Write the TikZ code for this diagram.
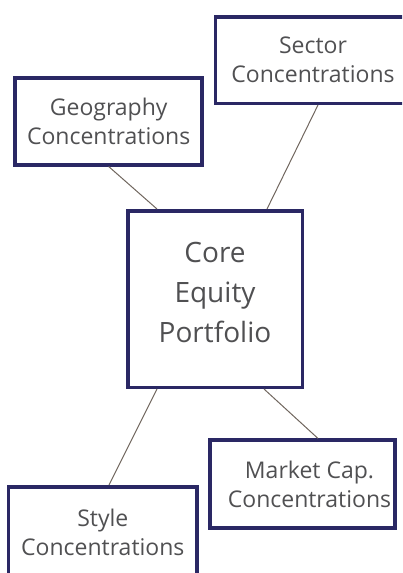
\documentclass[tikz,border=0pt]{standalone}
\usepackage{fontspec}
\setmainfont{Open Sans}

\definecolor{boxNavy}{RGB}{42,40,100}
\definecolor{linkBrown}{RGB}{112,102,94}
\definecolor{textGray}{RGB}{80,80,82}

\begin{document}
\begin{tikzpicture}[x = 1pt, y = -1pt, text = textGray, font = \fontsize{23}{29}\selectfont]
\tikzstyle{BoxStyle} = [shape = rectangle, draw = boxNavy, line width = 3.5pt, align = center, inner sep = 0pt]
\tikzstyle{sideStyle} = [BoxStyle, minimum width = 187pt, minimum height = 87pt]
\tikzstyle{coreStyle} = [BoxStyle, minimum width = 174.5pt, minimum height = 176.5pt, font = \fontsize{28}{40}\selectfont]
\tikzstyle{LinkStyle} = [draw = linkBrown, line width = 1pt]
\useasboundingbox (0,0) rectangle (402,573);
\clip (0,0) rectangle (402,573);
\node[coreStyle] (core) at (215, 299) {Core\\Equity\\Portfolio\rule[-14pt]{0pt}{14pt}};
\node[sideStyle] (geo) at (108.7, 121.3) {Geography\\Concentrations};
\node[sideStyle, minimum width = 195pt, minimum height = 86.5pt] (sector) at (313, 60) {Sector\\Concentrations};
\node[sideStyle, minimum width = 185pt, minimum height = 88pt] (market) at (302.5, 484.2) {\hspace*{14pt}Market Cap.\\\hspace*{14pt}Concentrations};
\node[sideStyle, minimum width = 188.8pt, minimum height = 90.5pt] (style) at (102.8, 532) {Style\\Concentrations};
%\path [LinkStyle] (geo) edge (core);
\path [LinkStyle]
(geo.south) edge ([xshift=31pt]core.north west)
([xshift=5pt]sector.south) edge ([xshift=-37pt]core.north east)
([xshift=31pt]core.south west) edge ([xshift=6.2pt]style.north)
([xshift=-40pt]core.south east) edge ([xshift=15.5pt]market.north);
\end{tikzpicture}
\end{document}
